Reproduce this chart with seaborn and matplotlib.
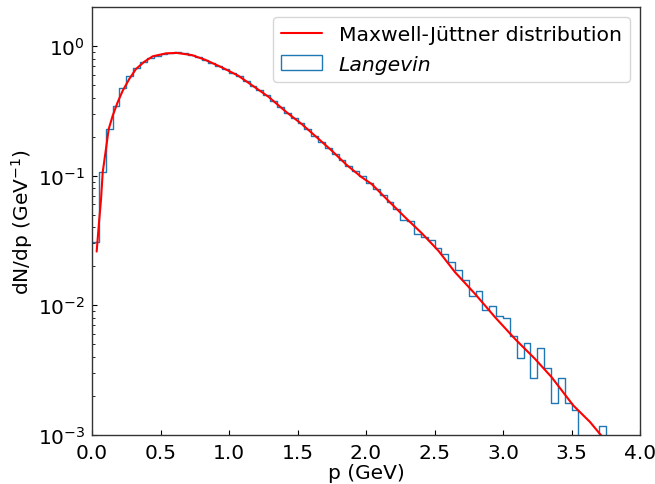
import numpy as np
import pandas as pd
import matplotlib
matplotlib.use("Agg")
import matplotlib.pyplot as plt
import seaborn as sns
from matplotlib.lines import Line2D
from matplotlib.patches import Patch

# ---------------- data ----------------
bin_width = 0.05
bin_range = (0.0, 4.0)
n_bins = 80
bin_centers = (np.arange(n_bins) + 0.5) * bin_width

langevin_density = [
    0.031, 0.106, 0.229, 0.347, 0.474, 0.59, 0.677, 0.757, 0.81, 0.84,
    0.87, 0.89, 0.892, 0.878, 0.855, 0.82, 0.786, 0.744, 0.704, 0.664,
    0.624, 0.584, 0.538, 0.494, 0.454, 0.416, 0.377, 0.34, 0.307, 0.28,
    0.2535, 0.2276, 0.204, 0.1834, 0.1644, 0.147, 0.131, 0.118, 0.108, 0.099,
    0.088, 0.0795, 0.0715, 0.0628, 0.0555, 0.0458, 0.0448, 0.0352, 0.0335, 0.0318,
    0.0275, 0.0248, 0.0216, 0.0188, 0.0157, 0.0119, 0.0128, 0.0092, 0.0098, 0.0083,
    0.0080, 0.0058, 0.0039, 0.0051, 0.00275, 0.0047, 0.0033, 0.00177, 0.00274, 0.00177,
    0.00157, 0.0, 0.0, 0.0, 0.00118, 0.0, 0.0, 0.0, 0.0, 0.0,
]

mj_p = [0.034, 0.053, 0.066, 0.078, 0.102, 0.122, 0.151, 0.187, 0.224, 0.272,
        0.321, 0.382, 0.443, 0.54, 0.618, 0.728, 0.825, 0.947, 1.068, 1.19,
        1.287, 1.421, 1.531, 1.64, 1.75, 1.859, 1.969, 2.041, 2.163, 2.285,
        2.406, 2.528, 2.65, 2.796, 2.942, 3.088, 3.234, 3.355, 3.513, 3.635, 3.75]
mj_density = [0.026, 0.046, 0.066, 0.106, 0.161, 0.229, 0.29, 0.368, 0.452, 0.557,
              0.665, 0.757, 0.833, 0.878, 0.885, 0.852, 0.784, 0.685, 0.59, 0.48,
              0.407, 0.308, 0.25, 0.198, 0.156, 0.121, 0.0972, 0.0863, 0.0641, 0.0478,
              0.0361, 0.0264, 0.018, 0.01225, 0.0081, 0.0055, 0.00386, 0.00279, 0.00169, 0.00126, 0.0009]

x_ticks = [0.0, 0.5, 1.0, 1.5, 2.0, 2.5, 3.0, 3.5, 4.0]
line_label = "Maxwell-Jüttner distribution"
hist_label = "Langevin"

# ---------------- style ----------------
sns.set_style("ticks", {"xtick.direction": "in", "ytick.direction": "in",
                        "axes.edgecolor": "0.2"})
plt.rcParams["font.family"] = ["DejaVu Sans"]
plt.rcParams["font.size"] = 14.5
plt.rcParams["text.color"] = "black"
plt.rcParams["axes.labelcolor"] = "black"

fig = plt.figure(figsize=(6.55, 4.85), dpi=100)
ax = fig.add_axes([92 / 655, 1 - 436 / 485, 548 / 655, 428 / 485])

hist_df = pd.DataFrame({"p": bin_centers, "w": langevin_density})
sns.histplot(data=hist_df, x="p", weights="w", binwidth=bin_width,
             binrange=bin_range, element="step", fill=False,
             color="#1f77b4", linewidth=1.0, ax=ax)

mj_df = pd.DataFrame({"p": mj_p, "f": mj_density})
sns.lineplot(data=mj_df, x="p", y="f", color="red", linewidth=1.5, ax=ax)

ax.set_yscale("log", nonpositive="clip")
ax.set_xlim(0, 4)
ax.set_ylim(1e-3, 2)
ax.set_xticks(x_ticks)
ax.set_xticklabels([f"{t:.1f}" for t in x_ticks])
ax.tick_params(axis="both", which="both", direction="in", labelsize=14.5,
               top=False, right=False, colors="black")
ax.tick_params(axis="both", which="major", length=3.5)
ax.tick_params(axis="x", which="major", pad=6)
ax.tick_params(axis="y", which="major", pad=5)
ax.tick_params(axis="y", which="minor", length=2)
for s in ax.spines.values():
    s.set_color("0.2")
    s.set_linewidth(1.0)

ax.set_xlabel("p (GeV)", fontsize=14.5, labelpad=0.5)
ax.set_ylabel("dN/dp (GeV$^{-1}$)", fontsize=14.5, labelpad=2)

handles = [Line2D([], [], color="red", linewidth=1.5),
           Patch(facecolor="none", edgecolor="#1f77b4", linewidth=1.0)]
leg = ax.legend(handles=handles, labels=[line_label, hist_label],
                loc="upper right", fontsize=14.7, frameon=True)
leg.get_texts()[1].set_fontstyle("italic")

fig.savefig("out.png", dpi=100)
